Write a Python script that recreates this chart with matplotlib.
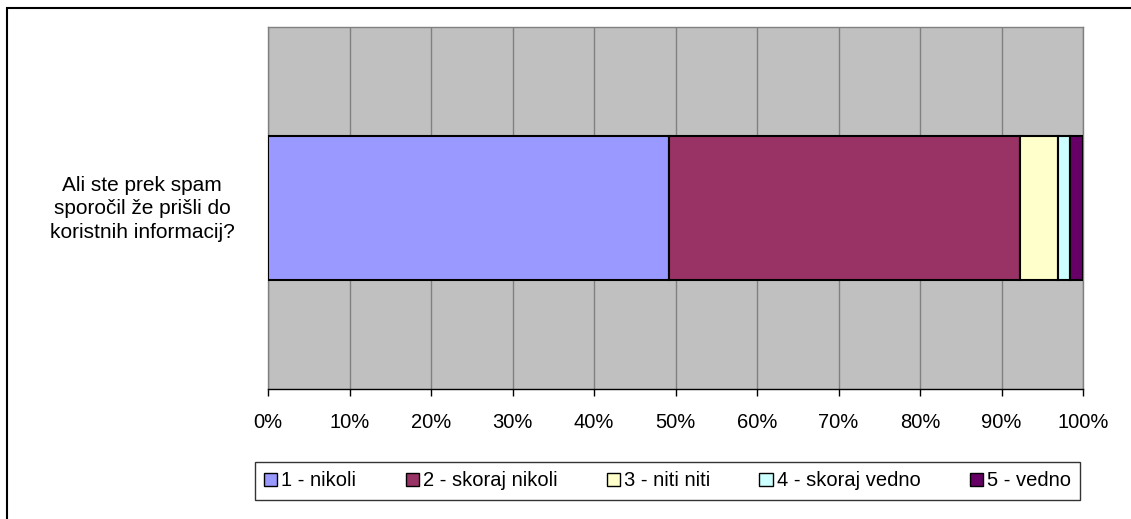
import matplotlib
matplotlib.use("Agg")
import matplotlib.pyplot as plt
from matplotlib.patches import Rectangle
import numpy as np

plt.rcParams['font.family'] = ['Liberation Sans', 'DejaVu Sans']

question = "Ali ste prek spam\nsporočil že prišli do\nkoristnih informacij?"
categories = ["1 - nikoli", "2 - skoraj nikoli", "3 - niti niti", "4 - skoraj vedno", "5 - vedno"]
counts = [32, 28, 3, 1, 1]
colors = ["#9999FF", "#993366", "#FFFFCC", "#CCFFFF", "#660066"]
tick_labels = [f"{v}%" for v in range(0, 101, 10)]

W, H = 1131, 519
fig = plt.figure(figsize=(W / 100, H / 100), dpi=100)
ax = fig.add_axes([268 / W, 1 - 389 / H, (1083 - 268) / W, (389 - 27) / H])
ax.set_facecolor("#C0C0C0")

total = sum(counts)
pct = [c / total * 100 for c in counts]
left = 0
handles = []
for cat, p, col in zip(categories, pct, colors):
    h = ax.barh([0], [p], left=left, height=0.40, color=col, edgecolor="black", linewidth=1.5, label=cat, zorder=3)
    handles.append(h)
    left += p

ax.set_xlim(0, 100)
ax.set_ylim(-0.5, 0.5)
ax.set_xticks(range(0, 101, 10))
ax.set_xticklabels(tick_labels, fontsize=14.5)
ax.set_yticks([])
ax.xaxis.grid(True, color="#808080", linewidth=1, zorder=1)
ax.set_axisbelow(True)
for s in ["top", "right", "left"]:
    ax.spines[s].set_color("#808080")
    ax.spines[s].set_linewidth(1)
ax.spines["bottom"].set_color("black")
ax.spines["bottom"].set_linewidth(1)
ax.tick_params(axis="x", direction="out", length=5, width=1, color="black", pad=12)

fig.text(142 / W, 1 - 209 / H, question, ha="center", va="center", fontsize=15, linespacing=1.27)

leg = fig.legend(handles=handles, labels=categories, loc="center",
                 bbox_to_anchor=((257 + 1078) / 2 / W, 1 - 481 / H), ncol=5,
                 fontsize=14.5, frameon=True, fancybox=False, edgecolor="black",
                 handlelength=0.65, handleheight=0.65, handletextpad=0.2, columnspacing=2.45,
                 borderpad=0.45)
leg.get_frame().set_linewidth(1)
for patch in leg.get_patches():
    patch.set_linewidth(1)

fig.add_artist(Rectangle((7 / W, -0.1), 1.2, 1 - 8 / H + 0.1, transform=fig.transFigure,
                         fill=False, edgecolor="black", linewidth=1.5))

fig.savefig("out.png", dpi=100)
